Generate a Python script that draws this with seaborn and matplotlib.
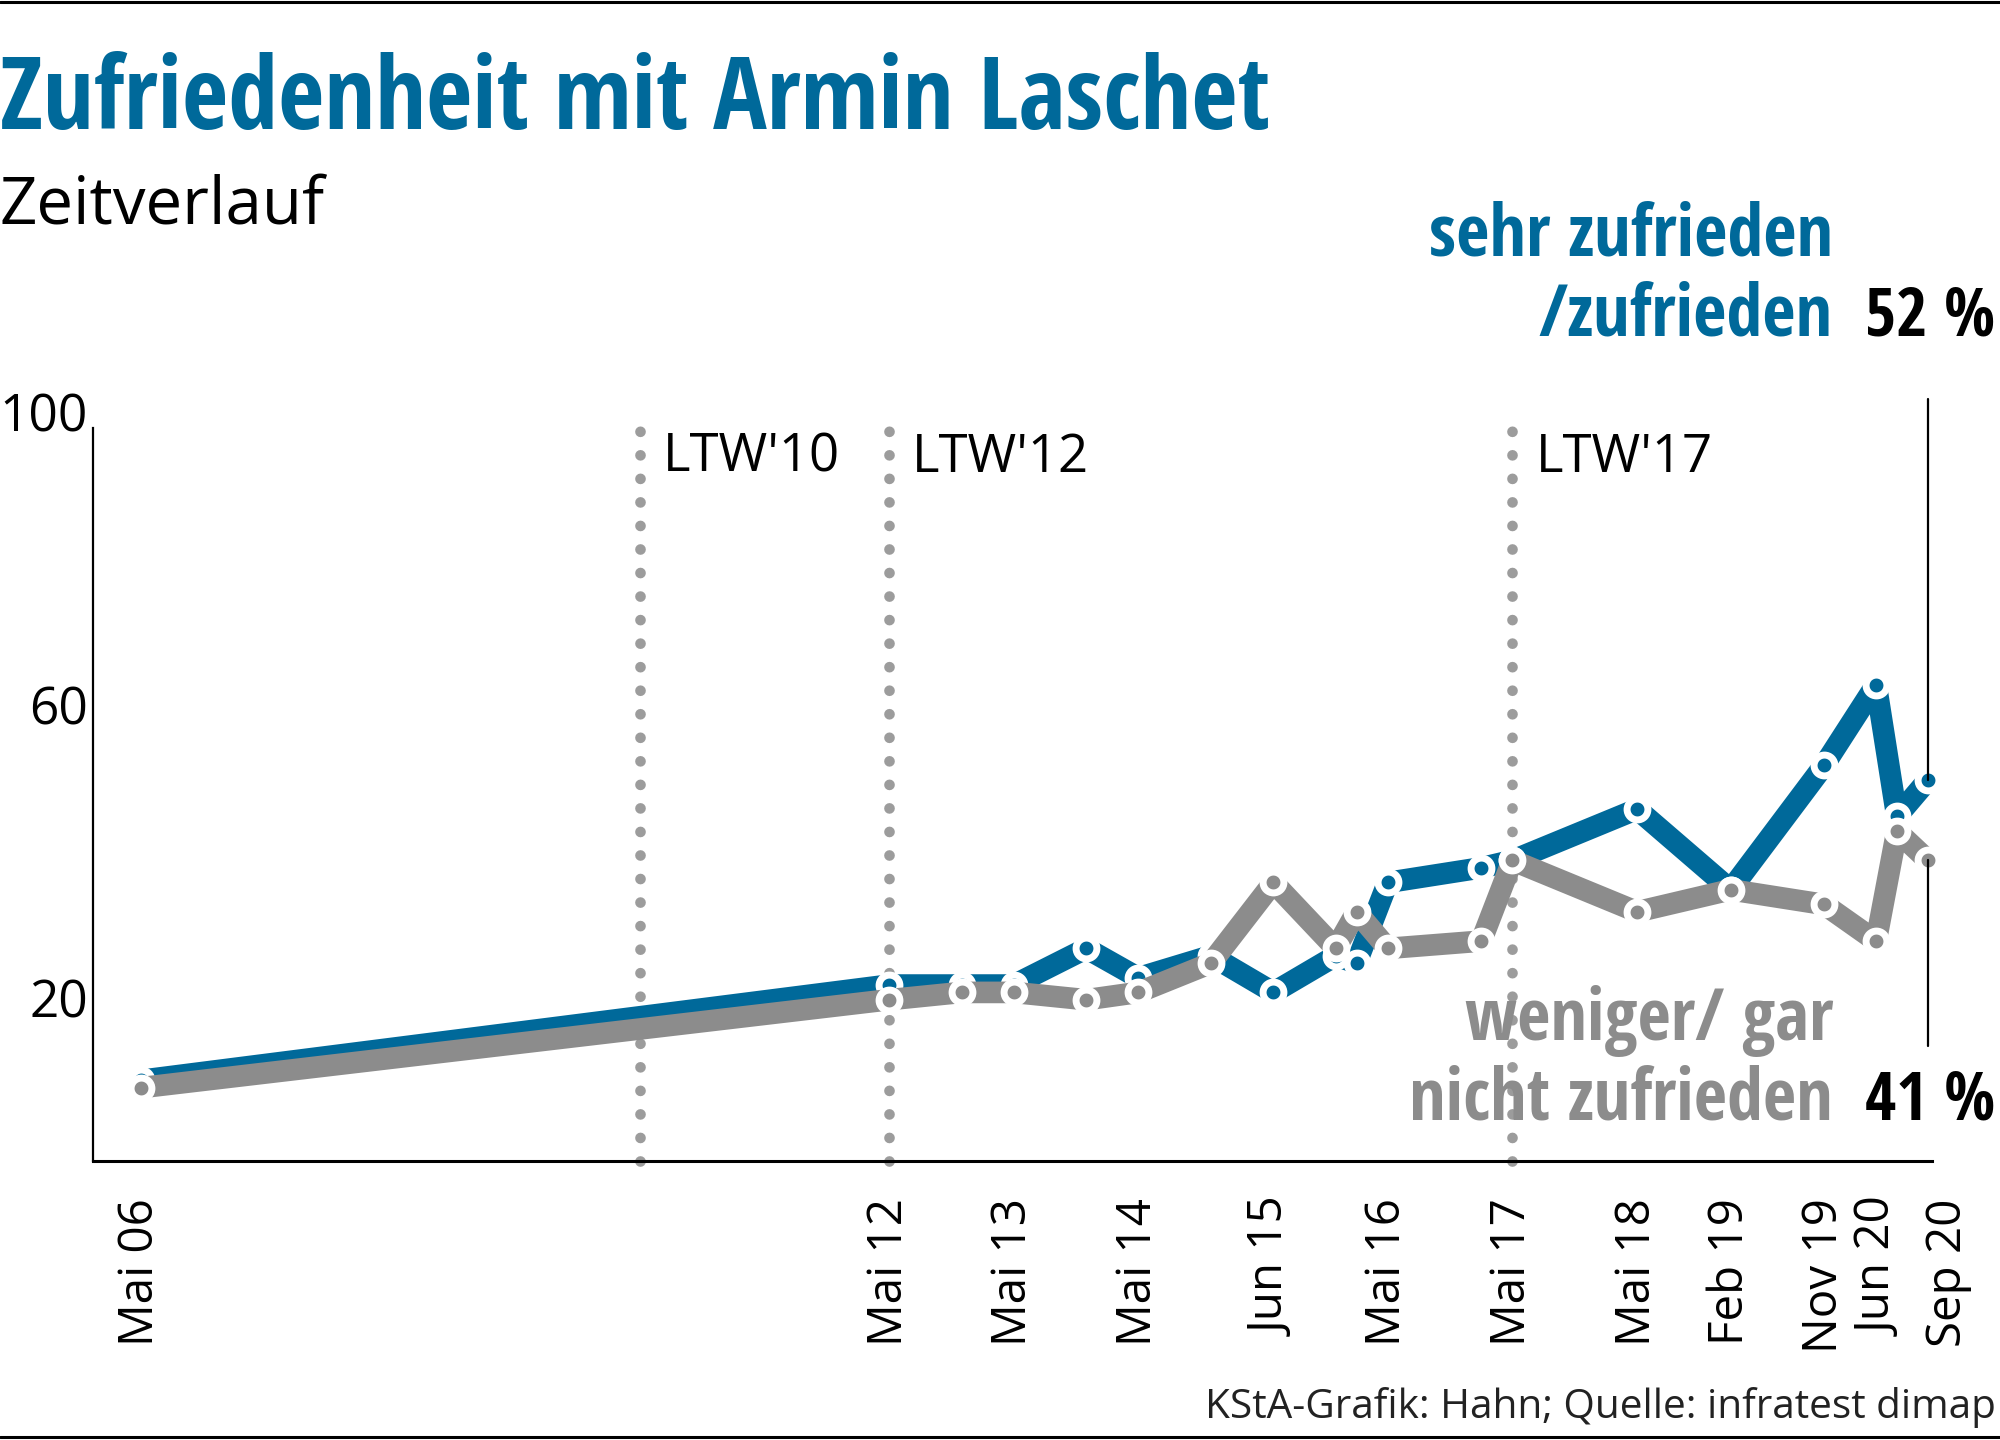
import matplotlib
matplotlib.use("Agg")
import matplotlib.pyplot as plt
import matplotlib.transforms as mtransforms
from matplotlib.lines import Line2D
from matplotlib import font_manager as fm
import seaborn as sns
import pandas as pd

# ---------------- data ----------------
dates = ["2006-05", "2012-05", "2012-12", "2013-05", "2013-12", "2014-05", "2014-12",
         "2015-06", "2015-12", "2016-02", "2016-05", "2017-02", "2017-05", "2018-05",
         "2019-02", "2019-11", "2020-04", "2020-06", "2020-09"]
zufrieden = [11, 24, 24, 24, 29, 25, 28, 23, 28, 27, 38, 40, 41, 48, 37, 54, 65, 47, 52]
unzufrieden = [10, 22, 23, 23, 22, 23, 27, 38, 29, 34, 29, 30, 41, 34, 37, 35, 30, 45, 41]
series_names = ["sehr zufrieden/zufrieden", "weniger/gar nicht zufrieden"]

tick_dates = ["2006-05", "2012-05", "2013-05", "2014-05", "2015-06", "2016-05", "2017-05",
              "2018-05", "2019-02", "2019-11", "2020-06", "2020-09"]
tick_labels = ["Mai 06", "Mai 12", "Mai 13", "Mai 14", "Jun 15", "Mai 16", "Mai 17",
               "Mai 18", "Feb 19", "Nov 19", "Jun 20", "Sep 20"]
ltw_dates = ["2010-05", "2012-05", "2017-05"]
ltw_labels = ["LTW'10", "LTW'12", "LTW'17"]
y_ticks = [20, 60, 100]
final_labels = ["52 %", "41 %"]

title = "Zufriedenheit mit Armin Laschet"
subtitle = "Zeitverlauf"
source = "KStA-Grafik: Hahn; Quelle: infratest dimap"

BLUE = "#00699a"
GRAY = "#8c8c8c"
DOT = "#9c9c9c"


def to_year(s):
    y, m = map(int, s.split("-"))
    return y + (m - 0.5) / 12.0


# ---------------- fonts ----------------
weights = {}
for e in fm.fontManager.ttflist:
    w = e.weight
    if isinstance(w, str):
        w = {"light": 300, "normal": 400, "regular": 400, "bold": 700}.get(w, 400)
    weights.setdefault(e.name, set()).add(int(w))

REG = "Open Sans"
if "Open Sans Condensed" in weights:
    BOLD = "Open Sans Condensed"
    if min(weights[BOLD]) < 400:
        LIGHT, LIGHT_W = "Open Sans Condensed", "light"
    else:
        LIGHT, LIGHT_W = "Open Sans", "normal"
else:
    BOLD = "Open Sans"
    LIGHT, LIGHT_W = "Open Sans", "normal"

sns.set_theme(style="white")
plt.rcParams["font.family"] = [REG, "DejaVu Sans"]

W, H = 2000, 1440
fig = plt.figure(figsize=(W / 100, H / 100), dpi=100)
renderer = fig.canvas.get_renderer()


def fsize(s, width_px, cap_px, family, weight="normal", wfrac=0.75):
    t = fig.text(0, 0, s, fontsize=100, fontweight=weight, fontfamily=family)
    w = t.get_window_extent(renderer).width
    t.remove()
    s_w = 100.0 * width_px / w
    s_h = cap_px / 0.714 * 0.72
    return s_w ** wfrac * s_h ** (1 - wfrac)


def ftext(xpx, ypx, s, **kw):
    return fig.text(xpx / W, 1 - ypx / H, s, **kw)


# ---------------- axes ----------------
ax_left, ax_right, y0_px, y100_px = 92.7, 1932.0, 1161.0, 428.0
ax = fig.add_axes([ax_left / W, 1 - y0_px / H, (ax_right - ax_left) / W, (y0_px - y100_px) / H])
ax.set_facecolor("none")

xs = [to_year(d) for d in dates]
n = len(xs)
df = pd.DataFrame({
    "x": xs + xs,
    "value": zufrieden + unzufrieden,
    "series": [series_names[0]] * n + [series_names[1]] * n,
})

# election reference lines (dotted)
for d in ltw_dates:
    ax.plot([to_year(d)] * 2, [0, 100.8], color=DOT, lw=7.7, linestyle=(0, (0.001, 2.2)),
            dash_capstyle="round", zorder=1, clip_on=False)

sns.lineplot(data=df, x="x", y="value", hue="series", hue_order=series_names,
             palette=[BLUE, GRAY], marker="o", markersize=15.0, markeredgecolor="white",
             markeredgewidth=5.0, linewidth=15.6, legend=False, ax=ax, sort=False,
             estimator=None, zorder=3)
for line in ax.lines[len(ltw_dates):]:
    line.set_solid_capstyle("butt")
    line.set_solid_joinstyle("round")
    line.set_clip_on(False)

ax.set_xlim(2005.99, 2020.74)
ax.set_ylim(0, 100)
ax.set_xlabel("")
ax.set_ylabel("")
for side in ["top", "right"]:
    ax.spines[side].set_visible(False)
ax.spines["left"].set_color("black")
ax.spines["left"].set_linewidth(1.6)
ax.spines["bottom"].set_color("black")
ax.spines["bottom"].set_linewidth(2.2)
ax.spines["bottom"].set_zorder(4)

# y ticks
ysz = fsize("60", 55, 45, REG)
ax.set_yticks(y_ticks)
ax.set_yticklabels([str(v) for v in y_ticks], fontsize=ysz, color="black", fontfamily=REG)
ax.tick_params(axis="y", length=0, pad=3.4)
for lbl in ax.get_yticklabels():
    lbl.set_transform(lbl.get_transform() + mtransforms.ScaledTranslation(0, 16 / 100, fig.dpi_scale_trans))

# x ticks
xsz = fsize("Mai 06", 140, 40, REG)
ax.set_xticks([to_year(d) for d in tick_dates])
ax.set_xticklabels(tick_labels, rotation=90, fontsize=xsz, color="black", fontfamily=REG)
ax.tick_params(axis="x", length=0, pad=27)
shifts = {"Jun 20": -17, "Sep 20": 20}
for lbl in ax.get_xticklabels():
    if lbl.get_text() in shifts:
        lbl.set_transform(lbl.get_transform() + mtransforms.ScaledTranslation(
            shifts[lbl.get_text()] / 100, 0, fig.dpi_scale_trans))

# election labels
lsz = fsize("LTW'10", 171, 42, REG)
for d, lab in zip(ltw_dates, ltw_labels):
    ax.text(to_year(d), 94, lab, fontsize=lsz, color="black", ha="left", va="baseline",
            fontfamily=REG,
            transform=ax.transData + mtransforms.ScaledTranslation(23 / 100, 0, fig.dpi_scale_trans))

# leader lines at the last value
x_last = to_year(dates[-1])
ax.plot([x_last, x_last], [zufrieden[-1], 104.0], color="black", lw=1.6, clip_on=False, zorder=6)
ax.plot([x_last, x_last], [unzufrieden[-1], 15.7], color="black", lw=1.6, clip_on=False, zorder=6)

# ---------------- texts ----------------
ftext(0, 129, title, fontsize=fsize(title, 1269, 61, BOLD, "bold", 1.0), fontweight="bold",
      fontfamily=BOLD, color=BLUE, ha="left", va="baseline")
ftext(0, 223, subtitle, fontsize=fsize(subtitle, 316, 51, REG), color="black",
      fontfamily=REG, ha="left", va="baseline")

lab_sz = fsize("nicht zufrieden", 425, 50, BOLD, "bold", 0.9)
for ypx, s, c in [(255, "sehr zufrieden", BLUE), (335, "/zufrieden", BLUE),
                  (1040, "weniger/ gar", GRAY), (1120, "nicht zufrieden", GRAY)]:
    ftext(1833, ypx, s, fontsize=lab_sz, fontweight="bold", fontfamily=BOLD, color=c,
          ha="right", va="baseline")

pct_sz = fsize("52 %", 131, 45, BOLD, "bold", 0.9)
ftext(1865, 335, final_labels[0], fontsize=pct_sz, fontweight="bold", fontfamily=BOLD,
      color="black", ha="left", va="baseline")
ftext(1865, 1120, final_labels[1], fontsize=pct_sz, fontweight="bold", fontfamily=BOLD,
      color="black", ha="left", va="baseline")

ftext(1996, 1418, source, fontsize=fsize(source, 791, 41, LIGHT, LIGHT_W, 1.0),
      fontweight=LIGHT_W, fontfamily=LIGHT, color="#222222", ha="right", va="baseline")

# top and bottom rules
fig.add_artist(Line2D([0, 1], [1 - 1.5 / H] * 2, transform=fig.transFigure, color="black", lw=2.2))
fig.add_artist(Line2D([0, 1], [1 - 1437 / H] * 2, transform=fig.transFigure, color="black", lw=2.2))

fig.savefig("out.png", dpi=100, facecolor="white")
